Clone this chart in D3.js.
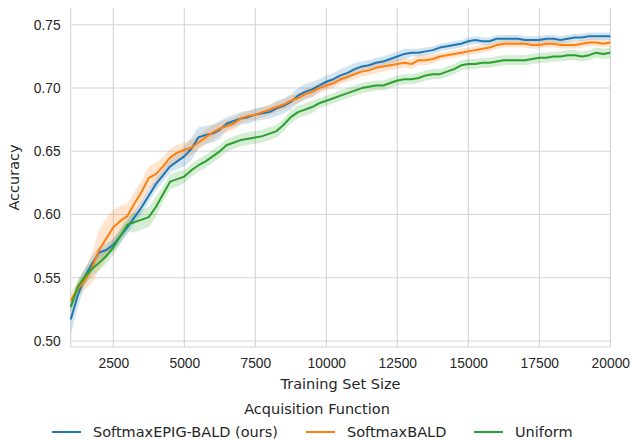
<!DOCTYPE html>
<html>
<head>
<meta charset="utf-8">
<script src="https://cdn.jsdelivr.net/npm/d3@7"></script>
<style>
body{margin:0;background:#fff;}
svg{font-family:"DejaVu Sans",sans-serif;}
.grid line{stroke:#d4d4d4;stroke-width:1.1;}
.axis text{fill:#262626;font-size:13.8px;}
.axis path,.axis line{display:none;}
.lbl{fill:#262626;font-size:14.5px;}
</style>
</head>
<body>
<svg id="chart" width="634" height="440"></svg>
<script>
// training set sizes (x)
var sizes = [1000,1250,1500,1750,2000,2250,2500,2750,3000,3250,3500,3750,4000,4250,4500,4750,
	5000,5250,5500,5750,6000,6250,6500,6750,7000,7250,7500,7750,8000,8250,8500,8750,
	9000,9250,9500,9750,10000,10250,10500,10750,11000,11250,11500,11750,12000,12250,12500,12750,
	13000,13250,13500,13750,14000,14250,14500,14750,15000,15250,15500,15750,16000,16250,16500,16750,
	17000,17250,17500,17750,18000,18250,18500,18750,19000,19250,19500,19750,20000];

var epigMean = [0.517,0.536,0.551,0.561,0.570,0.572,0.576,0.583,0.590,0.598,0.606,0.615,0.624,0.631,0.638,0.642,
	0.646,0.652,0.661,0.663,0.664,0.667,0.672,0.674,0.676,0.677,0.679,0.680,0.681,0.684,0.686,0.689,
	0.694,0.697,0.699,0.702,0.705,0.707,0.710,0.712,0.715,0.717,0.718,0.720,0.721,0.723,0.725,0.727,
	0.728,0.728,0.729,0.730,0.732,0.733,0.734,0.735,0.737,0.738,0.737,0.737,0.739,0.739,0.739,0.739,
	0.738,0.738,0.738,0.739,0.739,0.738,0.739,0.740,0.740,0.741,0.741,0.741,0.741];
var epigErr = [0.012,0.009,0.007,0.006,0.005,0.005,0.005,0.005,0.005,0.005,0.005,0.005,0.005,0.005,0.005,0.006,
	0.008,0.009,0.008,0.007,0.007,0.007,0.005,0.005,0.005,0.005,0.005,0.005,0.005,0.006,0.006,0.006,
	0.006,0.006,0.006,0.005,0.005,0.005,0.005,0.005,0.005,0.004,0.004,0.004,0.004,0.004,0.004,0.004,
	0.003,0.003,0.003,0.003,0.003,0.003,0.003,0.003,0.003,0.003,0.003,0.003,0.003,0.003,0.003,0.003,
	0.003,0.003,0.003,0.003,0.003,0.003,0.003,0.003,0.003,0.003,0.003,0.003,0.003];

var baldMean = [0.532,0.541,0.548,0.558,0.572,0.581,0.590,0.595,0.599,0.609,0.618,0.629,0.632,0.638,0.645,0.649,
	0.651,0.653,0.657,0.661,0.665,0.668,0.670,0.672,0.676,0.678,0.679,0.681,0.683,0.685,0.687,0.690,
	0.692,0.695,0.697,0.700,0.702,0.704,0.707,0.709,0.711,0.713,0.714,0.716,0.717,0.718,0.719,0.720,
	0.719,0.722,0.722,0.723,0.725,0.726,0.727,0.728,0.729,0.730,0.731,0.732,0.734,0.735,0.735,0.735,
	0.735,0.734,0.734,0.735,0.735,0.734,0.734,0.734,0.735,0.736,0.736,0.735,0.736];
var baldErr = [0.006,0.006,0.007,0.012,0.016,0.016,0.014,0.012,0.010,0.009,0.009,0.009,0.009,0.008,0.007,0.006,
	0.006,0.006,0.006,0.006,0.006,0.005,0.005,0.005,0.004,0.004,0.004,0.004,0.004,0.004,0.004,0.004,
	0.004,0.004,0.004,0.004,0.004,0.004,0.004,0.004,0.004,0.004,0.004,0.004,0.004,0.004,0.004,0.004,
	0.004,0.004,0.004,0.004,0.003,0.003,0.003,0.003,0.003,0.003,0.003,0.003,0.003,0.003,0.003,0.003,
	0.003,0.003,0.003,0.003,0.003,0.003,0.003,0.003,0.003,0.003,0.003,0.003,0.003];

var uniMean = [0.527,0.543,0.551,0.557,0.562,0.567,0.574,0.583,0.592,0.594,0.596,0.598,0.606,0.616,0.626,0.628,
	0.630,0.635,0.639,0.642,0.646,0.650,0.655,0.657,0.659,0.660,0.661,0.662,0.664,0.666,0.671,0.677,
	0.681,0.683,0.685,0.688,0.690,0.692,0.694,0.696,0.698,0.700,0.701,0.702,0.702,0.704,0.706,0.707,
	0.707,0.708,0.710,0.711,0.711,0.713,0.715,0.718,0.719,0.719,0.720,0.720,0.721,0.722,0.722,0.722,
	0.722,0.723,0.724,0.724,0.725,0.725,0.726,0.726,0.725,0.726,0.728,0.727,0.728];
var uniErr = [0.005,0.006,0.006,0.006,0.006,0.006,0.006,0.006,0.006,0.008,0.008,0.008,0.008,0.006,0.006,0.006,
	0.005,0.005,0.005,0.005,0.005,0.005,0.005,0.005,0.005,0.005,0.005,0.005,0.005,0.005,0.005,0.005,
	0.005,0.005,0.005,0.004,0.004,0.004,0.004,0.004,0.004,0.004,0.004,0.004,0.004,0.004,0.004,0.004,
	0.004,0.004,0.004,0.004,0.004,0.004,0.004,0.004,0.004,0.004,0.004,0.004,0.004,0.004,0.004,0.004,
	0.004,0.004,0.004,0.004,0.004,0.004,0.004,0.004,0.004,0.004,0.004,0.004,0.004];

var seriesNames = ["SoftmaxEPIG-BALD (ours)", "SoftmaxBALD", "Uniform"];
var seriesColors = ["#1f77b4", "#ff7f0e", "#2ca02c"];
var xTicks = [2500, 5000, 7500, 10000, 12500, 15000, 17500, 20000];
var yTicks = [0.50, 0.55, 0.60, 0.65, 0.70, 0.75];

var svg = d3.select("#chart");
var margin = {left: 70.7, right: 23.7, top: 8, bottom: 93};
var W = 634, H = 440;
var x = d3.scaleLinear().domain([1000, 20000]).range([margin.left, W - margin.right]);
var y = d3.scaleLinear().domain([0.4953, 0.7633]).range([H - margin.bottom, margin.top]);

// grid
var grid = svg.append("g").attr("class", "grid");
grid.selectAll(".gx").data(xTicks).enter().append("line")
	.attr("x1", function(d){ return x(d); }).attr("x2", function(d){ return x(d); })
	.attr("y1", y.range()[1]).attr("y2", y.range()[0]);
grid.selectAll(".gy").data(yTicks).enter().append("line")
	.attr("x1", x.range()[0]).attr("x2", x.range()[1])
	.attr("y1", function(d){ return y(d); }).attr("y2", function(d){ return y(d); });
// left + bottom spines
grid.append("line").attr("x1", x.range()[0]).attr("x2", x.range()[0])
	.attr("y1", y.range()[1]).attr("y2", y.range()[0]);
grid.append("line").attr("x1", x.range()[0]).attr("x2", x.range()[1])
	.attr("y1", y.range()[0]).attr("y2", y.range()[0]);

var series = [
	{mean: epigMean, err: epigErr},
	{mean: baldMean, err: baldErr},
	{mean: uniMean, err: uniErr}
].map(function(s, i){
	return {
		name: seriesNames[i],
		color: seriesColors[i],
		pts: sizes.map(function(n, j){ return {n: n, m: s.mean[j], e: s.err[j]}; })
	};
});

var area = d3.area()
	.x(function(d){ return x(d.n); })
	.y0(function(d){ return y(d.m - d.e); })
	.y1(function(d){ return y(d.m + d.e); });
var line = d3.line()
	.x(function(d){ return x(d.n); })
	.y(function(d){ return y(d.m); });

var plot = svg.append("g");
plot.selectAll(".band").data(series).enter().append("path")
	.attr("class", "band")
	.attr("d", function(d){ return area(d.pts); })
	.attr("fill", function(d){ return d.color; })
	.attr("fill-opacity", 0.2);
plot.selectAll(".curve").data(series).enter().append("path")
	.attr("class", "curve")
	.attr("d", function(d){ return line(d.pts); })
	.attr("fill", "none")
	.attr("stroke", function(d){ return d.color; })
	.attr("stroke-width", 2)
	.attr("stroke-linejoin", "round");

// axes
svg.append("g").attr("class", "axis")
	.attr("transform", "translate(0," + (y.range()[0] + 3) + ")")
	.call(d3.axisBottom(x).tickValues(xTicks).tickSize(0).tickPadding(8).tickFormat(d3.format("d")));
svg.append("g").attr("class", "axis")
	.attr("transform", "translate(" + (x.range()[0] - 4) + ",0)")
	.call(d3.axisLeft(y).tickValues(yTicks).tickSize(0).tickPadding(6).tickFormat(d3.format(".2f")));

svg.append("text").attr("class", "lbl")
	.attr("x", (x.range()[0] + x.range()[1]) / 2).attr("y", 389)
	.attr("text-anchor", "middle").text("Training Set Size");
svg.append("text").attr("class", "lbl")
	.attr("transform", "translate(19," + ((y.range()[0] + y.range()[1]) / 2) + ") rotate(-90)")
	.attr("text-anchor", "middle").text("Accuracy");

// legend
var legend = svg.append("g");
legend.append("text").attr("class", "lbl")
	.attr("x", 317).attr("y", 414).attr("text-anchor", "middle").text("Acquisition Function");
var legendX = [52, 306, 474];
var items = legend.selectAll(".item").data(series).enter().append("g")
	.attr("transform", function(d, i){ return "translate(" + legendX[i] + ",432)"; });
items.append("line").attr("x1", 0).attr("x2", 29).attr("y1", 0).attr("y2", 0)
	.attr("stroke", function(d){ return d.color; }).attr("stroke-width", 2);
items.append("text").attr("class", "lbl").attr("x", 41).attr("y", 5)
	.text(function(d){ return d.name; });
</script>
</body>
</html>
